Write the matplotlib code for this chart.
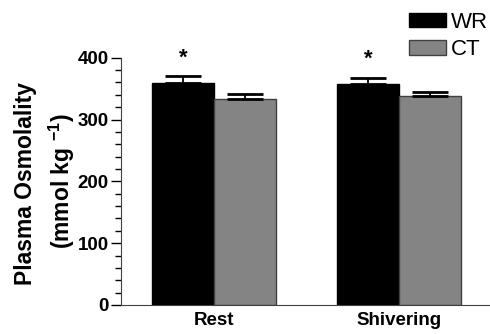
import matplotlib
matplotlib.use("Agg")
import matplotlib.pyplot as plt
import numpy as np
from matplotlib.ticker import MultipleLocator

conditions = ["Rest", "Shivering"]
wr_mean = [359, 357]
wr_err = [12, 11]
ct_mean = [333, 338]
ct_err = [8, 7]
significant = [True, True]

plt.rcParams["font.family"] = ["Liberation Sans", "DejaVu Sans"]
plt.rcParams["mathtext.fontset"] = "custom"
plt.rcParams["mathtext.rm"] = "Liberation Sans:bold"
plt.rcParams["mathtext.bf"] = "Liberation Sans:bold"
plt.rcParams["mathtext.default"] = "bf"

fig = plt.figure(figsize=(4.9, 3.34), dpi=100)
ax = fig.add_axes([0.247, 0.087, 0.753, 0.74])

x = np.arange(len(conditions))
width = 0.335
ax.bar(x - width / 2, wr_mean, width, color="black", edgecolor="black", label="WR",
       yerr=[np.zeros(2), wr_err], error_kw=dict(ecolor="black", elinewidth=1.3, capsize=13, capthick=2))
ax.bar(x + width / 2, ct_mean, width, color="#848484", edgecolor="#404040", linewidth=1.0, label="CT",
       yerr=[np.zeros(2), ct_err], error_kw=dict(ecolor="black", elinewidth=1.3, capsize=13, capthick=2))

for i, sig in enumerate(significant):
    if sig:
        ax.text(x[i] - width / 2, wr_mean[i] + wr_err[i] + 12, "*", ha="center", va="bottom",
                fontsize=16, fontweight="bold")

ax.set_ylim(0, 400)
ax.set_xlim(-0.503, 1.49)
ax.yaxis.set_major_locator(MultipleLocator(100))
ax.yaxis.set_minor_locator(MultipleLocator(20))
ax.tick_params(axis="y", which="major", length=7, width=1, labelsize=13.5, direction="out", pad=2)
ax.tick_params(axis="y", which="minor", length=4, width=1, direction="out")
ax.tick_params(axis="x", length=0, labelsize=13.5, pad=5)
ax.set_xticks(x)
ax.set_xticklabels(conditions, fontweight="bold")
for lbl in ax.get_yticklabels():
    lbl.set_fontweight("bold")

for side in ["top", "right"]:
    ax.spines[side].set_visible(False)
ax.spines["left"].set_color("#404040")
ax.spines["bottom"].set_color("#404040")

fig.text(0.053, 0.45, "Plasma Osmolality", rotation=90, ha="center", va="center",
         fontsize=16.5, fontweight="bold")
fig.text(0.127, 0.458, r"(mmol kg $^{-1}$)", rotation=90, ha="center", va="center",
         fontsize=16.5, fontweight="bold")

fig.legend(loc="upper right", bbox_to_anchor=(0.995, 0.965), frameon=False, fontsize=16,
           handlelength=1.67, handleheight=0.63, handletextpad=0.2, labelspacing=0.3,
           borderpad=0, borderaxespad=0)

fig.savefig("out.png", dpi=100)
